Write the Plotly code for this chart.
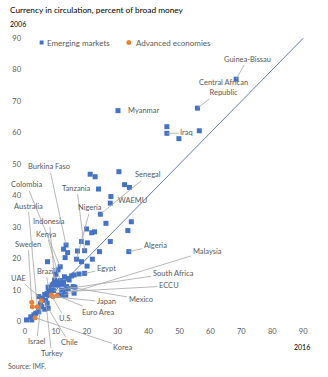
import plotly.graph_objects as go

# ---------------- data (x = 2016, y = 2006), percent of broad money ----------------
em_names = ["Guinea-Bissau", "Central African<br>Republic", "Iraq", "Myanmar", "Burkina Faso",
            "Senegal", "WAEMU", "Colombia", "Tanzania", "Nigeria", "Indonesia", "Kenya",
            "Algeria", "Malaysia", "Egypt", "Brazil", "UAE", "South Africa", "ECCU",
            "Mexico", "Turkey", "Chile"]
em_x = [68.3, 55.8, 45.9, 30.1, 13.3, 24.4, 27.6, 11.4, 19.3, 16.7, 9.6, 11.4,
        33.6, 12.5, 19.3, 7.7, 4.5, 9.3, 13.0, 13.5, 6.7, 7.5]
em_y = [77.0, 67.8, 59.8, 67.0, 24.3, 34.1, 37.6, 17.4, 22.5, 19.8, 13.2, 13.0,
        22.2, 8.4, 15.3, 10.5, 7.9, 9.8, 9.5, 11.1, 6.8, 4.2]

em_other_x = [45.9, 49.8, 56.4, 21.1, 22.7, 30.4, 23.8, 32.2, 33.8, 27.8, 26.2, 34.4,
              33.3, 19.9, 21.6, 22.5, 18.3, 20.2, 27.6, 12.5, 17.0, 13.8, 24.1, 13.0,
              7.3, 18.3, 21.8, 20.1, 10.7, 17.5, 15.1, 15.9, 12.8, 14.0, 14.3, 12.5,
              8.8, 9.8, 10.7, 8.6, 14.0, 7.2, 7.7, 11.9, 15.6, 15.9, 10.4, 10.9,
              5.6, 7.2, 5.4, 6.4, 3.5, 4.5, 2.9, 1.9, 2.2, 0.5, 7.5, 16.2, 6.4, 13.2,
              10.0, 9.3, 12.0, 8.0, 5.0]
em_other_y = [61.9, 58.1, 60.6, 46.8, 46.0, 47.6, 42.1, 43.5, 42.6, 39.7, 31.2, 31.7,
              28.9, 29.4, 28.2, 28.5, 25.4, 25.0, 25.4, 23.0, 22.4, 21.9, 22.2, 20.3,
              19.0, 19.0, 19.8, 17.6, 16.4, 15.1, 14.5, 14.8, 14.2, 13.7, 13.2, 12.6,
              11.6, 11.6, 11.6, 10.0, 10.5, 9.0, 8.4, 10.0, 11.1, 9.0, 12.6, 8.4,
              7.4, 5.8, 4.7, 3.9, 2.6, 3.1, 2.1, 1.5, 0.5, 0.5, 10.9, 10.9, 8.6, 8.4,
              15.0, 12.0, 11.8, 9.2, 5.6]

adv_names = ["Sweden", "Australia", "Israel", "Korea", "U.S.", "Japan", "Euro Area", ""]
adv_x = [2.2, 4.0, 5.3, 3.3, 8.5, 9.1, 10.4, 2.4]
adv_y = [6.1, 4.7, 6.6, 1.2, 8.4, 7.9, 8.2, 4.7]

diag = [0, 90]
ticks = [0, 10, 20, 30, 40, 50, 60, 70, 80, 90]

# ---------------- label placement (layout only) ----------------
label_pos = {
    "Guinea-Bissau": (72.0, 83.4, True),
    "Central African<br>Republic": (64.3, 74.2, True),
    "Iraq": (52.3, 59.9, True),
    "Myanmar": (38.2, 67.2, False),
    "Burkina Faso": (7.9, 49.1, True),
    "Senegal": (39.9, 46.6, True),
    "WAEMU": (34.9, 38.3, False),
    "Colombia": (0.6, 43.4, True),
    "Tanzania": (16.8, 42.4, True),
    "Nigeria": (21.2, 36.1, True),
    "Australia": (1.0, 36.7, True),
    "Indonesia": (7.9, 31.9, True),
    "Kenya": (7.0, 27.8, True),
    "Sweden": (1.0, 24.6, True),
    "Algeria": (42.1, 24.0, True),
    "Malaysia": (58.9, 22.4, True),
    "Egypt": (26.3, 16.7, True),
    "Brazil": (6.7, 16.0, True),
    "UAE": (-2.2, 13.8, True),
    "South Africa": (47.9, 15.4, True),
    "ECCU": (46.6, 11.3, True),
    "Mexico": (37.4, 7.1, True),
    "Japan": (26.3, 6.2, True),
    "Euro Area": (23.5, 3.0, True),
    "U.S.": (13.0, 0.8, True),
    "Israel": (3.8, -6.5, True),
    "Chile": (14.3, -6.8, True),
    "Turkey": (8.6, -10.3, True),
    "Korea": (31.7, -8.1, True),
}

BLUE = "#4472C4"
ORANGE = "#ED7D31"
GRAY = "#595959"
LINE = "#A6A6A6"
FONT = "Lato"

fig = go.Figure()
fig.add_trace(go.Scatter(x=diag, y=diag, mode="lines", line=dict(color=BLUE, width=0.9),
                         showlegend=False, hoverinfo="skip"))
fig.add_trace(go.Scatter(x=em_x + em_other_x, y=em_y + em_other_y, mode="markers",
                         marker=dict(symbol="square", size=5, color=BLUE),
                         name="Emerging markets", showlegend=False))
fig.add_trace(go.Scatter(x=adv_x, y=adv_y, mode="markers",
                         marker=dict(symbol="circle", size=5, color=ORANGE),
                         name="Advanced economies", showlegend=False))

anns = []
for names, xs, ys in ((em_names, em_x, em_y), (adv_names, adv_x, adv_y)):
    for n, px, py in zip(names, xs, ys):
        if not n:
            continue
        lx, ly, arrow = label_pos[n]
        if arrow:
            anns.append(dict(x=px, y=py, xref="x", yref="y", ax=lx, ay=ly, axref="x", ayref="y",
                             text=n, showarrow=True, arrowhead=0, arrowwidth=0.8,
                             arrowcolor=LINE, standoff=0, startstandoff=0,
                             font=dict(family=FONT, size=7.5, color=GRAY)))
        else:
            anns.append(dict(x=lx, y=ly, xref="x", yref="y", text=n, showarrow=False,
                             font=dict(family=FONT, size=7.5, color=GRAY)))

# titles / notes
anns += [
    dict(x=-0.05, y=1.09, xref="paper", yref="paper", xanchor="left", yanchor="middle",
         text="Currency in circulation, percent of broad money", showarrow=False,
         font=dict(family=FONT, size=8.3, color="#000000")),
    dict(x=-0.05, y=1.0415, xref="paper", yref="paper", xanchor="left", yanchor="middle",
         text="2006", showarrow=False, font=dict(family=FONT, size=7, color="#000000")),
    dict(x=0.966, y=-0.076, xref="paper", yref="paper", xanchor="center", yanchor="middle",
         text="2016", showarrow=False, font=dict(family=FONT, size=7, color="#000000")),
    dict(x=-0.055, y=-0.142, xref="paper", yref="paper", xanchor="left", yanchor="middle",
         text="Source: IMF.", showarrow=False, font=dict(family=FONT, size=7, color=GRAY)),
    dict(x=0.079, y=0.9775, xref="paper", yref="paper", xanchor="left", yanchor="middle",
         text="Emerging markets", showarrow=False, font=dict(family=FONT, size=8, color=GRAY)),
    dict(x=0.386, y=0.9775, xref="paper", yref="paper", xanchor="left", yanchor="middle",
         text="Advanced economies", showarrow=False, font=dict(family=FONT, size=8, color=GRAY)),
]

shapes = [
    dict(type="rect", xref="paper", yref="paper", x0=0.0608, x1=0.0743, y0=0.9706, y1=0.9844,
         fillcolor=BLUE, line=dict(width=0)),
    dict(type="circle", xref="paper", yref="paper", x0=0.3598, x1=0.3767, y0=0.9689, y1=0.9862,
         fillcolor=ORANGE, line=dict(width=0)),
]

fig.update_layout(
    width=328, height=377,
    margin=dict(l=16, r=16, t=36, b=52),
    paper_bgcolor="white", plot_bgcolor="white",
    font=dict(family=FONT, size=8, color=GRAY),
    annotations=anns, shapes=shapes, showlegend=False,
    xaxis=dict(range=[-0.951, 92.85], tickvals=ticks, showgrid=False, zeroline=False,
               showline=False, ticks="", tickfont=dict(size=7.5, color=GRAY)),
    yaxis=dict(range=[-1.11, 90.72], tickvals=ticks, showgrid=False, zeroline=False,
               showline=False, ticks="", tickfont=dict(size=7.5, color=GRAY)),
)

fig.write_html("out.html")
